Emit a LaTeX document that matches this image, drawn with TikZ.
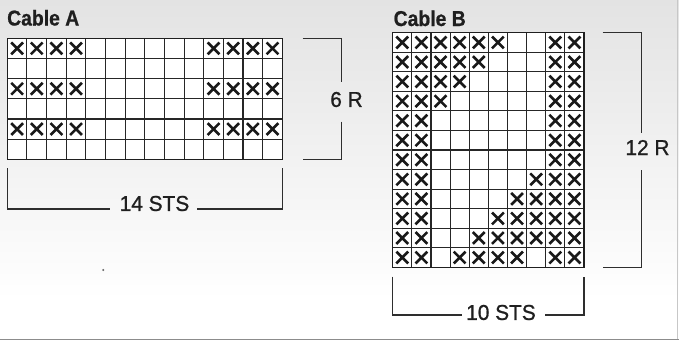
\documentclass[tikz,border=0pt]{standalone}
\usepackage{fontspec}
\setmainfont{Liberation Sans}
\newfontfamily\condfont{Liberation Sans}[FakeStretch=0.9,FakeBold=0.8]
\newfontfamily\lblfont{Liberation Sans}[FakeStretch=0.97,FakeBold=0.9]
\usetikzlibrary{shapes.misc}
\tikzset{
  gridline/.style={draw=black!85, line width=1.1pt},
  frameline/.style={draw=black!88, line width=1.4pt},
  xmark/.style={cross out, draw=black!90, line width=2.6pt, minimum size=11.8pt, inner sep=0pt, outer sep=0pt},
  brack/.style={draw=black!82, line width=1.1pt},
  lbl/.style={font=\lblfont\fontsize{21.5}{24}\selectfont, text=black!88, inner sep=0pt},
  ttl/.style={font=\condfont\bfseries\fontsize{21.5}{24}\selectfont, text=black!88, inner sep=0pt, anchor=base west},
}
\begin{document}
\begin{tikzpicture}[x=1pt,y=-1pt]
\useasboundingbox (0,0) rectangle (679,341);
\shade[top color=black!11, bottom color=white] (0,0) rectangle (679,300);
\fill[white] (0,299.5) rectangle (679,341);
\draw[black!45, line width=1pt] (0,339) -- (679,339);
\draw[black!22, line width=0.8pt] (677.7,0) -- (677.7,339);

% titles
\node[ttl] (ta) at (7,25.5) {Cable A};
\node[ttl] (tb) at (393.5,26) {Cable B};

% ---------- Cable A grid ----------
\def\ax{7.3}\def\ay{38.3}\def\aw{19.643}\def\ah{20.167}
\fill[white] (\ax,\ay) rectangle (282.3,159.3);
\foreach \i in {1,...,13} \draw[gridline] (\ax+\i*\aw,\ay) -- (\ax+\i*\aw,159.3);
\foreach \j in {1,...,5} \draw[gridline] (\ax,\ay+\j*\ah) -- (282.3,\ay+\j*\ah);
\draw[frameline] (\ax,\ay) rectangle (282.3,159.3);
\foreach \r in {1,3,5}
  \foreach \c in {1,2,3,4,11,12,13,14}
    \node[xmark] (a-\r-\c) at (\ax+\c*\aw-\aw/2,\ay+\r*\ah-\ah/2) {};

% ---------- Cable B grid ----------
\def\bx{392.7}\def\by{32.7}\def\bw{19.13}\def\bh{19.55}
\fill[white] (\bx,\by) rectangle (584,267.3);
\foreach \i in {1,...,9} \draw[gridline] (\bx+\i*\bw,\by) -- (\bx+\i*\bw,267.3);
\foreach \j in {1,...,11} \draw[gridline] (\bx,\by+\j*\bh) -- (584,\by+\j*\bh);
\draw[frameline] (\bx,\by) rectangle (584,267.3);
\foreach \r/\cl in {1/{1,2,3,4,5,6,9,10}, 2/{1,2,3,4,5,9,10}, 3/{1,2,3,4,9,10},
    4/{1,2,3,9,10}, 5/{1,2,9,10}, 6/{1,2,9,10}, 7/{1,2,9,10}, 8/{1,2,8,9,10},
    9/{1,2,7,8,9,10}, 10/{1,2,6,7,8,9,10}, 11/{1,2,5,6,7,8,9,10}, 12/{1,2,4,5,6,7,9,10}}
  \foreach \c in \cl
    \node[xmark] (b-\r-\c) at (\bx+\c*\bw-\bw/2,\by+\r*\bh-\bh/2) {};

% ---------- labels ----------
\node[lbl] (r6) at (346.5,99.5) {6 R};
\node[lbl] (r12) at (647.5,147.5) {12 R};
\node[lbl] (s14) at (154.5,203.5) {14 STS};
\node[lbl] (s10) at (501,312.5) {10 STS};

% ---------- brackets ----------
\coordinate (p1) at (302.7,38.3);  \coordinate (p2) at (341.5,38.3);
\coordinate (p3) at (341.5,82);    \coordinate (p4) at (341.5,121.7);
\coordinate (p5) at (341.5,159.3); \coordinate (p6) at (302.7,159.3);
\draw[brack] (p1) -- (p2) -- (p3);
\draw[brack] (p4) -- (p5) -- (p6);

\coordinate (q1) at (602.7,32.7);  \coordinate (q2) at (641.7,32.7);
\coordinate (q3) at (641.7,133);   \coordinate (q4) at (641.7,170);
\coordinate (q5) at (641.7,267.3); \coordinate (q6) at (602.7,267.3);
\draw[brack] (q1) -- (q2) -- (q3);
\draw[brack] (q4) -- (q5) -- (q6);

\coordinate (s1) at (7.3,168.3);   \coordinate (s2) at (7.3,209);
\coordinate (s3) at (110,209);     \coordinate (s4) at (197,209);
\coordinate (s5) at (282.3,209);   \coordinate (s6) at (282.3,168.3);
\draw[brack] (s1) -- (s2) -- (s3);
\draw[brack] (s4) -- (s5) -- (s6);

\coordinate (u1) at (392.7,276.7); \coordinate (u2) at (392.7,315);
\coordinate (u3) at (461.7,315);   \coordinate (u4) at (545,315);
\coordinate (u5) at (584,315);     \coordinate (u6) at (584,276.7);
\draw[brack] (u1) -- (u2) -- (u3);
\draw[brack] (u4) -- (u5) -- (u6);

% speck
\fill[black!60] (103.3,270) circle (1.1pt);
\end{tikzpicture}
\end{document}
